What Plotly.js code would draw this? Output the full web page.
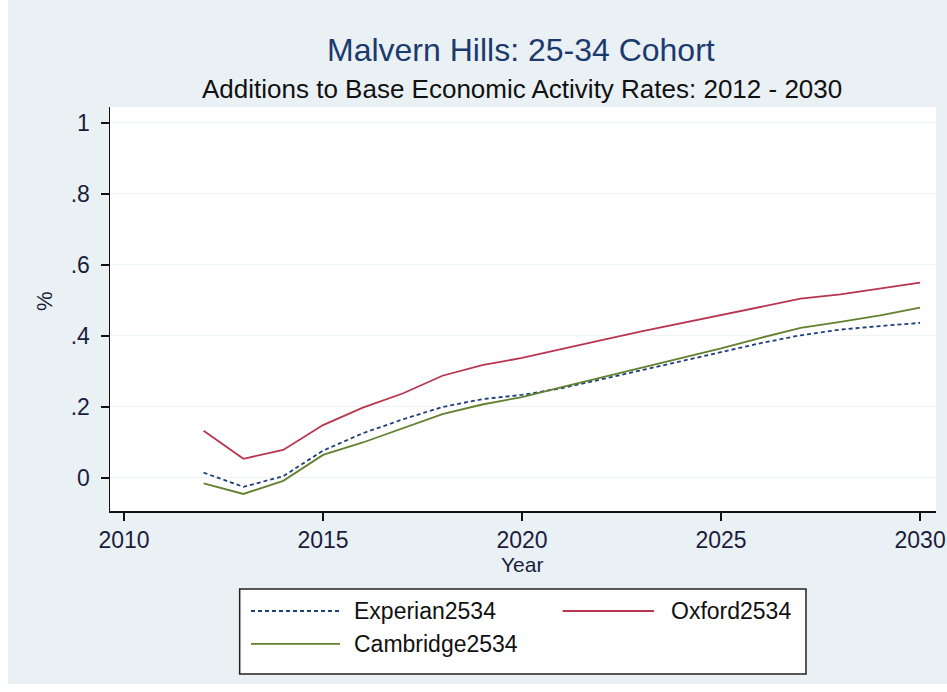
<!DOCTYPE html>
<html>
<head>
<meta charset="utf-8">
<script src="https://cdn.plot.ly/plotly-3.0.1.min.js"></script>
<style>html,body{margin:0;padding:0;background:#fff;}#chart{width:947px;height:692px;}</style>
</head>
<body>
<div id="chart"></div>
<script>
const years = [2012, 2013, 2014, 2015, 2016, 2017, 2018, 2019, 2020, 2021, 2022, 2023, 2024, 2025, 2026, 2027, 2028, 2029, 2030];
const experian2534 = [0.015, -0.025, 0.005, 0.077, 0.126, 0.165, 0.200, 0.222, 0.234, 0.253, 0.278, 0.303, 0.330, 0.355, 0.380, 0.402, 0.418, 0.428, 0.437];
const oxford2534 = [0.133, 0.054, 0.079, 0.149, 0.198, 0.238, 0.288, 0.318, 0.338, 0.364, 0.388, 0.413, 0.436, 0.459, 0.482, 0.505, 0.517, 0.533, 0.550];
const cambridge2534 = [-0.015, -0.045, -0.008, 0.065, 0.100, 0.140, 0.180, 0.207, 0.228, 0.256, 0.283, 0.309, 0.337, 0.365, 0.395, 0.423, 0.440, 0.458, 0.480];
const seriesNames = ['Experian2534', 'Oxford2534', 'Cambridge2534'];
const xTickVals = [2010, 2015, 2020, 2025, 2030];
const yTickVals = [0, 0.2, 0.4, 0.6, 0.8, 1];
const yTickText = ['0', '.2', '.4', '.6', '.8', '1'];
const titleText = 'Malvern Hills: 25-34 Cohort';
const subtitleText = 'Additions to Base Economic Activity Rates: 2012 - 2030';
const xTitle = 'Year';
const yTitle = '%';

const FONT = 'Liberation Sans, Arial, sans-serif';
const colors = ['#1f3f7a', '#b8354f', '#62802e'];
const dashes = ['4px,3px', 'solid', 'solid'];
const seriesData = [experian2534, oxford2534, cambridge2534];

const traces = seriesData.map((ys, i) => ({
  x: years, y: ys, type: 'scatter', mode: 'lines', name: seriesNames[i],
  line: {color: colors[i], width: 1.8, dash: dashes[i]},
  showlegend: false, hoverinfo: 'skip'
}));

// custom legend (paper coords)
const legRows = [-0.2475, -0.2475, -0.329];
const legSampleX = [[0.1707, 0.2785], [0.548, 0.6586], [0.1707, 0.2785]];
const legTextX = [0.293, 0.6768, 0.293];
const shapes = [
  {type: 'rect', xref: 'paper', yref: 'paper', x0: 0.157, x1: 0.8426, y0: -0.4035, y1: -0.193,
   line: {color: '#222', width: 1.5}, fillcolor: '#ffffff', layer: 'above'},
  {type: 'rect', xref: 'paper', yref: 'paper', x0: -0.14, x1: -0.1235, y0: -0.46, y1: 1.3,
   line: {width: 0}, fillcolor: '#ffffff', layer: 'below'},
  {type: 'rect', xref: 'paper', yref: 'paper', x0: -0.14, x1: 1.02, y0: -0.46, y1: -0.428,
   line: {width: 0}, fillcolor: '#ffffff', layer: 'below'}
];
seriesNames.forEach((n, i) => {
  shapes.push({type: 'line', xref: 'paper', yref: 'paper', x0: legSampleX[i][0], x1: legSampleX[i][1],
    y0: legRows[i], y1: legRows[i], line: {color: colors[i], width: 1.8, dash: dashes[i]}, layer: 'above'});
});

const annotations = [
  {text: titleText, xref: 'paper', yref: 'paper', x: 0.497, y: 1.141, xanchor: 'center', yanchor: 'middle',
   showarrow: false, font: {family: FONT, size: 32, color: '#1d3a6e'}},
  {text: subtitleText, xref: 'paper', yref: 'paper', x: 0.499, y: 1.045, xanchor: 'center', yanchor: 'middle',
   showarrow: false, font: {family: FONT, size: 26, color: '#111'}},
  {text: xTitle, xref: 'paper', yref: 'paper', x: 0.499, y: -0.133, xanchor: 'center', yanchor: 'middle',
   showarrow: false, font: {family: FONT, size: 21, color: '#1c1c3c'}},
  {text: yTitle, xref: 'paper', yref: 'paper', x: -0.0787, y: 0.52, xanchor: 'center', yanchor: 'middle',
   textangle: -90, showarrow: false, font: {family: FONT, size: 22, color: '#1c1c3c'}}
];
seriesNames.forEach((n, i) => {
  annotations.push({text: n, xref: 'paper', yref: 'paper', x: legTextX[i], y: legRows[i],
    xanchor: 'left', yanchor: 'middle', showarrow: false, font: {family: FONT, size: 23, color: '#111'}});
});

const layout = {
  width: 947, height: 692,
  margin: {l: 110, r: 11, t: 107, b: 181},
  paper_bgcolor: '#eaf1f4', plot_bgcolor: '#ffffff',
  showlegend: false,
  font: {family: FONT, color: '#1c1c3c'},
  xaxis: {
    range: [2009.648, 2030.4], tickvals: xTickVals, ticktext: xTickVals.map(String),
    showgrid: false, zeroline: false, showline: true, linecolor: '#111', linewidth: 1.5,
    ticks: 'outside', ticklen: 8, tickwidth: 1.5, tickcolor: '#111',
    tickfont: {family: FONT, size: 23, color: '#1c1c3c'}, ticklabelstandoff: 0
  },
  yaxis: {
    range: [-0.093, 1.045], tickvals: yTickVals, ticktext: yTickText,
    showgrid: true, gridcolor: '#eef3f5', gridwidth: 1,
    zeroline: false, showline: true, linecolor: '#111', linewidth: 1.5,
    ticks: 'outside', ticklen: 8, tickwidth: 1.5, tickcolor: '#111',
    tickfont: {family: FONT, size: 23, color: '#1c1c3c'}, ticklabelstandoff: 6
  },
  shapes: shapes,
  annotations: annotations
};

Plotly.newPlot('chart', traces, layout, {staticPlot: true, displayModeBar: false});
</script>
</body>
</html>
